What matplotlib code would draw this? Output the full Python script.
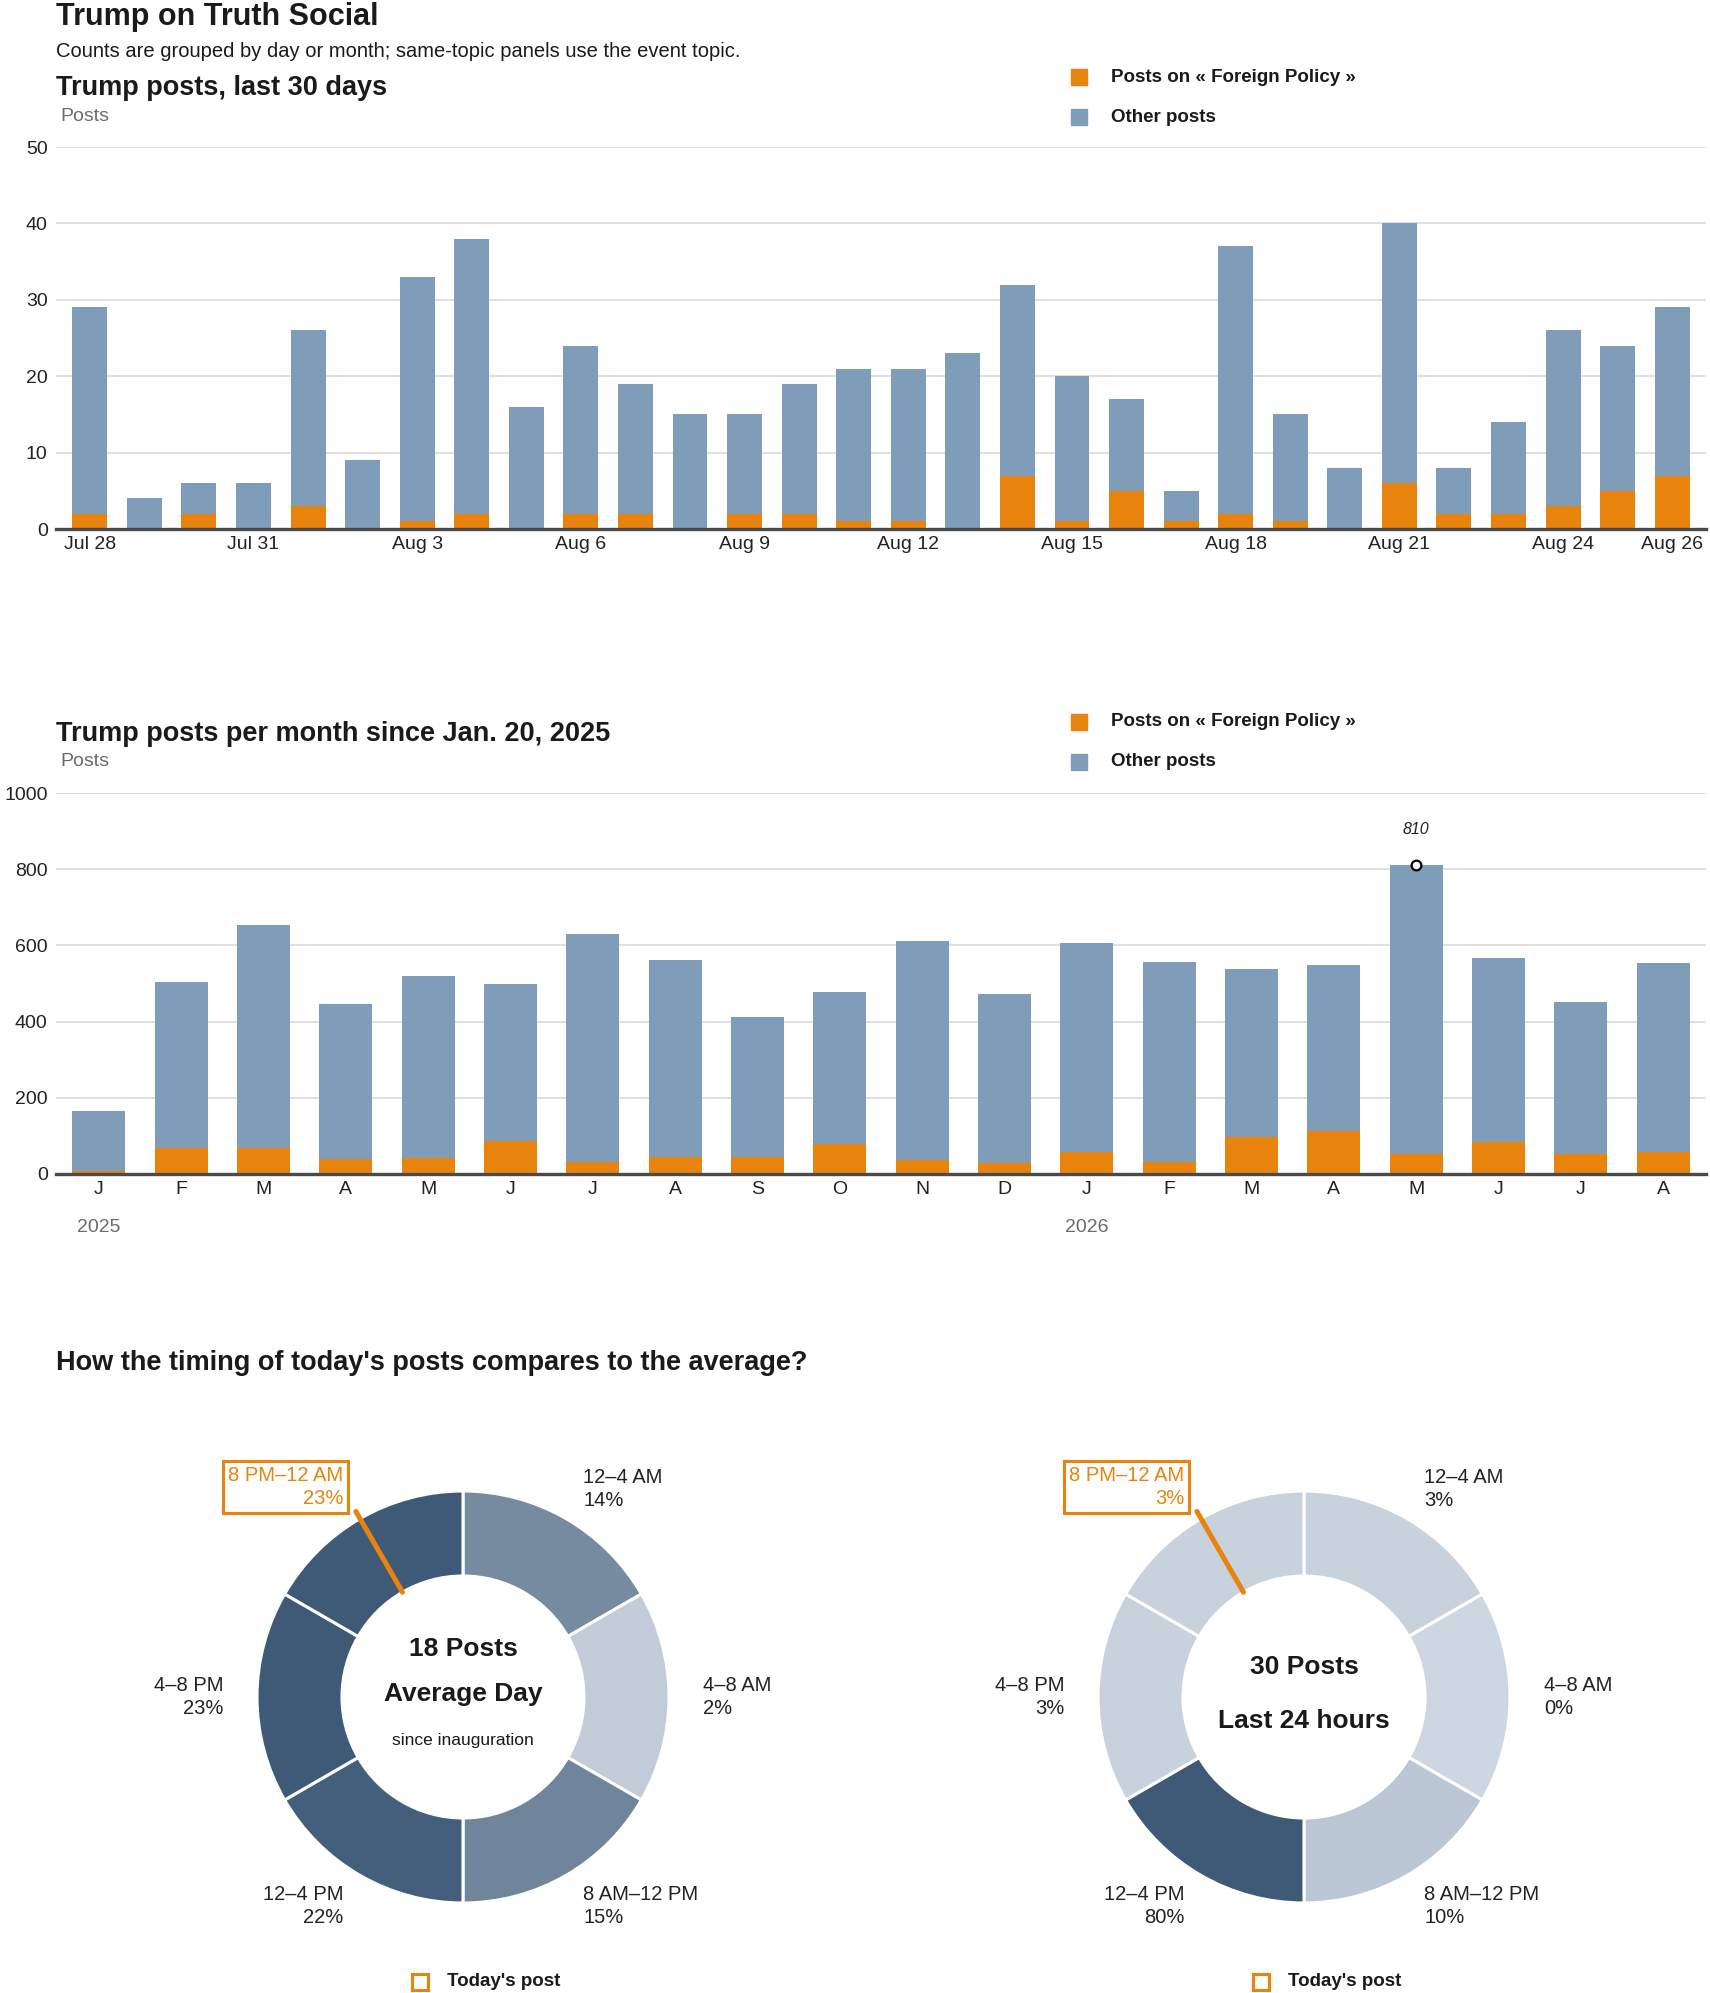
import numpy as np
import pandas as pd
import matplotlib
matplotlib.use("Agg")
import matplotlib.pyplot as plt
from matplotlib.patches import Rectangle

# data: last 30 days (total posts, of which foreign policy)
day_dates = pd.date_range("2026-07-28", "2026-08-26", freq="D")
day_total = [29, 4, 6, 6, 26, 9, 33, 38, 16, 24, 19, 15, 15, 19, 21,
             21, 23, 32, 20, 17, 5, 37, 15, 8, 40, 8, 14, 26, 24, 29]
day_foreign = [2, 0, 2, 0, 3, 0, 1, 2, 0, 2, 2, 0, 2, 2, 1,
               1, 0, 7, 1, 5, 1, 2, 1, 0, 6, 2, 2, 3, 5, 7]

# data: posts per month since Jan 2025
month_dates = pd.date_range("2025-01-01", "2026-08-01", freq="MS")
month_total = [165, 504, 654, 447, 520, 499, 630, 562, 412, 477,
               612, 473, 607, 556, 538, 549, 810, 567, 451, 554]
month_foreign = [7, 69, 69, 39, 43, 86, 31, 45, 45, 79,
                 38, 30, 58, 32, 96, 113, 53, 83, 53, 58]

# data: timing donuts
slots = ["12–4 AM", "4–8 AM", "8 AM–12 PM", "12–4 PM", "4–8 PM", "8 PM–12 AM"]
avg_pct = [14, 2, 15, 22, 23, 23]
today_pct = [3, 0, 10, 80, 3, 3]
today_slot = "8 PM–12 AM"
avg_posts = 18
today_posts = 30

ORANGE = "#e8830e"
BLUE = "#7f9db9"
LIGHT = np.array([205, 215, 225]) / 255
DARK = np.array([62, 90, 118]) / 255

plt.rcParams["font.family"] = ["Liberation Sans", "DejaVu Sans"]
plt.rcParams["text.color"] = "#1a1a1a"

W, H = 1710, 1993
fig = plt.figure(figsize=(W / 100, H / 100), dpi=100)

# overlay axes in pixel coords for free text
bg = fig.add_axes([0, 0, 1, 1])
bg.set_xlim(0, W)
bg.set_ylim(H, 0)
bg.axis("off")
bg.patch.set_alpha(0)


def ax_px(x0, y0, x1, y1):
    return fig.add_axes([x0 / W, 1 - y1 / H, (x1 - x0) / W, (y1 - y0) / H])


def legend(y):
    bg.add_patch(Rectangle((1071, y - 8), 16, 16, color=ORANGE))
    bg.text(1111, y, "Posts on « Foreign Policy »", fontsize=13.5, weight="bold", va="center")
    bg.add_patch(Rectangle((1071, y + 32), 16, 16, color=BLUE))
    bg.text(1111, y + 40, "Other posts", fontsize=13.5, weight="bold", va="center")


def style_bar_axes(ax, ymax, step):
    ax.set_ylim(0, ymax)
    ax.set_yticks(np.arange(0, ymax + 1, step))
    ax.grid(axis="y", color="#dddddd", lw=1.3)
    ax.set_axisbelow(True)
    for s in ["top", "right", "left"]:
        ax.spines[s].set_visible(False)
    ax.spines["bottom"].set_color("#4a4a4a")
    ax.spines["bottom"].set_linewidth(2.4)
    ax.spines["bottom"].set_zorder(5)
    ax.tick_params(length=0, labelsize=14, labelcolor="#222222")
    ax.tick_params(axis="y", pad=6)
    ax.tick_params(axis="x", pad=5)


# titles
bg.text(56, 17, "Trump on Truth Social", fontsize=22, weight="bold", va="center")
bg.text(56, 51, "Counts are grouped by day or month; same-topic panels use the event topic.",
        fontsize=14.5, va="center")

# --- chart 1: last 30 days
bg.text(56, 88, "Trump posts, last 30 days", fontsize=19.5, weight="bold", va="center")
bg.text(60, 116, "Posts", fontsize=14, color="#6b6b6b", va="center")
legend(77)

ax1 = ax_px(56, 147, 1706, 529)
x1 = np.arange(len(day_total))
other1 = np.array(day_total) - np.array(day_foreign)
ax1.bar(x1, day_foreign, width=0.64, color=ORANGE)
ax1.bar(x1, other1, bottom=day_foreign, width=0.64, color=BLUE)
ax1.set_xlim(-0.62, len(x1) - 0.38)
style_bar_axes(ax1, 50, 10)
tick_idx = list(range(0, len(x1), 3)) + [len(x1) - 1]
ax1.set_xticks(tick_idx)
ax1.set_xticklabels([f"{day_dates[i]:%b} {day_dates[i].day}" for i in tick_idx])

# --- chart 2: per month
bg.text(56, 734, "Trump posts per month since Jan. 20, 2025", fontsize=19.5, weight="bold", va="center")
bg.text(60, 762, "Posts", fontsize=14, color="#6b6b6b", va="center")
legend(722)

ax2 = ax_px(56, 793, 1706, 1174)
x2 = np.arange(len(month_total))
other2 = np.array(month_total) - np.array(month_foreign)
ax2.bar(x2, month_foreign, width=0.645, color=ORANGE)
ax2.bar(x2, other2, bottom=month_foreign, width=0.645, color=BLUE)
ax2.set_xlim(-0.52, len(x2) - 0.48)
style_bar_axes(ax2, 1000, 200)
ax2.set_xticks(x2)
ax2.set_xticklabels([f"{d:%b}"[0] for d in month_dates])
for i, d in enumerate(month_dates):
    if d.month == 1:
        ax2.text(i, -0.14, str(d.year), transform=ax2.get_xaxis_transform(),
                 ha="center", va="center", fontsize=14, color="#6b6b6b")
peak = int(np.argmax(month_total))
ax2.plot(peak, month_total[peak], "o", mfc="white", mec="black", mew=1.6, ms=7, zorder=6)
ax2.annotate(str(month_total[peak]), (peak, month_total[peak]), xytext=(0, 26),
             textcoords="offset points", ha="center", va="center",
             fontsize=11.5, style="italic", color="#222222")

# --- donuts
bg.text(56, 1363, "How the timing of today's posts compares to the average?",
        fontsize=19.5, weight="bold", va="center")

R_OUT, R_IN = 206, 121
CY = 1697
label_pos = [(120, -208, "left"), (240, 0, "left"), (120, 209, "left"),
             (-120, 209, "right"), (-240, 0, "right"), (-120, -208, "right")]


def donut(cx, pcts, center_lines):
    ax = ax_px(cx - R_OUT, CY - R_OUT, cx + R_OUT, CY + R_OUT)
    vmax = max(pcts)
    cols = [tuple(LIGHT + (DARK - LIGHT) * v / vmax) for v in pcts]
    ax.pie(np.ones(len(slots)), colors=cols, startangle=90, counterclock=False, radius=1,
           wedgeprops=dict(width=1 - R_IN / R_OUT, edgecolor="white", linewidth=2.2))
    ax.set_xlim(-1, 1)
    ax.set_ylim(-1, 1)
    ax.set_aspect("equal")
    ax.axis("off")
    k = slots.index(today_slot)
    ang = np.deg2rad(90 - (k + 0.5) * 360 / len(slots))
    r = np.array([R_IN / R_OUT, 1.04])
    ax.plot(r * np.cos(ang), r * np.sin(ang), color=ORANGE, lw=3.6,
            solid_capstyle="round", clip_on=False)
    for i, s in enumerate(slots):
        dx, dy, ha = label_pos[i]
        txt = f"{s}\n{pcts[i]}%"
        if s == today_slot:
            bg.text(cx + dx, CY + dy - 2, txt, ha=ha, va="center", ma=ha, fontsize=14.5,
                    color=ORANGE, linespacing=1.25,
                    bbox=dict(boxstyle="square,pad=0.25", fc="none", ec=ORANGE, lw=2.2))
        else:
            bg.text(cx + dx, CY + dy, txt, ha=ha, va="center", ma=ha, fontsize=14.5,
                    color="#222222", linespacing=1.25)
    for dy, t, fs, wt in center_lines:
        bg.text(cx, CY + dy, t, ha="center", va="center", fontsize=fs, weight=wt)
    bg.add_patch(Rectangle((cx - 51, 1974), 16, 16, fc="none", ec=ORANGE, lw=2.2))
    bg.text(cx - 16, 1981, "Today's post", fontsize=13.5, weight="bold", va="center")


donut(463, avg_pct, [(-48, f"{avg_posts} Posts", 19, "bold"),
                     (-3, "Average Day", 19, "bold"),
                     (44, "since inauguration", 12.5, "normal")])
donut(1304, today_pct, [(-30, f"{today_posts} Posts", 19, "bold"),
                        (24, "Last 24 hours", 19, "bold")])

fig.savefig("out.png", dpi=100)
